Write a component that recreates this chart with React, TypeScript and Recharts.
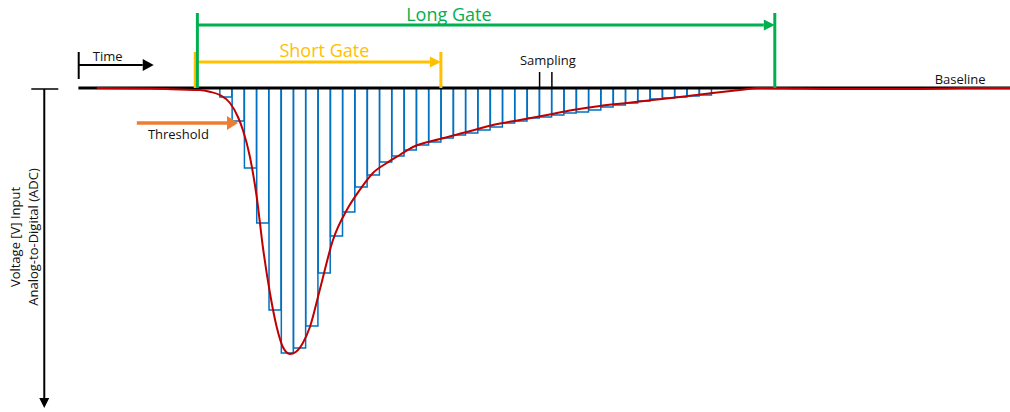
import React from 'react';
import {
  ComposedChart,
  Bar,
  Line,
  XAxis,
  YAxis,
  ReferenceLine,
  ReferenceDot,
} from 'recharts';

// time axis in ns, one ADC sample every 4 ns
const SAMPLE_NS = 4;
const T_DOMAIN: [number, number] = [-71.5, 257];
const V_DOMAIN: [number, number] = [-324, 88];

// digitised amplitude of each sample (mV)
const sampleAmp = [
  -9, -33, -80, -135, -222, -265, -260, -238, -185, -148,
  -124, -99, -87, -74, -68, -62, -57, -54, -50, -47,
  -45, -42, -39, -35, -33, -30, -29, -27, -25, -24,
  -22, -19, -17, -15, -13, -11, -10, -9, -8, -7,
];

// analog pulse shape [t ns, mV]
const pulseT = [
  -40, -23, -13, -6.5, -3.3, 0, 3.3, 5.9, 7.5, 9.8, 12, 14, 16.3, 18.5, 20.5, 22.8,
  24.7, 27, 29.3, 32.5, 36.8, 41.3, 45.5, 49.8, 54.3, 58.5, 62.8, 71.6, 80.3, 88.8,
  97.6, 106.4, 114.8, 123.6, 132.4, 140.8, 149.6, 160.3, 169.1, 175.6, 188.6, 204.9,
  221.2, 235.8, 240.7, 257,
];
const pulseV = [
  0, -0.5, -1.5, -2, -3.7, -7, -15, -29, -42, -69, -109, -159, -205, -239, -259, -266,
  -264, -255, -239, -202, -152, -122, -102, -85, -75, -67, -59, -51, -44, -37,
  -32, -27, -22, -18, -15, -12, -9, -5, -2, 0, -0.5, -1,
  -1, -0.5, 0, 0,
];

const baselineT = [-46, 257];

// gate / marker times (ns)
const gateStart = -7.3;
const shortGateEnd = 71.9;
const longGateEnd = 180.5;
const samplingTicks = [104, 108];

const bins = sampleAmp.map((v, i) => ({ t: i * SAMPLE_NS + SAMPLE_NS / 2, v }));
const pulse = pulseT.map((t, i) => ({ t, v: pulseV[i] }));
const baseline = baselineT.map((t) => ({ t, v: 0 }));

const FONT = '"Open Sans", sans-serif';
const GREEN = '#00B050';
const YELLOW = '#FFC000';
const ORANGE = '#ED7D31';

type ArrowOpts = { color: string; width: number; head: number; half: number };

// horizontal arrow, head at the second point
const hArrow = (o: ArrowOpts) => (p: any) => {
  const { x1, y1, x2 } = p;
  const dir = x2 >= x1 ? 1 : -1;
  const hx = x2 - dir * o.head;
  return (
    <g>
      <line x1={x1} y1={y1} x2={hx} y2={y1} stroke={o.color} strokeWidth={o.width} />
      <polygon points={`${x2},${y1} ${hx},${y1 - o.half} ${hx},${y1 + o.half}`} fill={o.color} />
    </g>
  );
};

// vertical axis arrow with a cap at the top
const vArrow = (p: any) => {
  const { x1, y1, y2 } = p;
  const head = 10;
  return (
    <g>
      <line x1={x1 - 13} y1={y1} x2={x1 + 14} y2={y1} stroke="#000" strokeWidth={1.5} />
      <line x1={x1} y1={y1} x2={x1} y2={y2 - head} stroke="#000" strokeWidth={2} />
      <polygon points={`${x1},${y2} ${x1 - 5},${y2 - head} ${x1 + 5},${y2 - head}`} fill="#000" />
    </g>
  );
};

const note =
  (text: string, color: string, size: number, anchor: 'start' | 'middle' | 'end', rotate = false) =>
  (p: any) =>
    (
      <text
        x={p.cx}
        y={p.cy}
        fill={color}
        fontSize={size}
        fontFamily={FONT}
        textAnchor={anchor}
        dominantBaseline={rotate ? 'central' : 'alphabetic'}
        transform={rotate ? `rotate(-90 ${p.cx} ${p.cy})` : undefined}
      >
        {text}
      </text>
    );

const seg = (xa: number, ya: number, xb: number, yb: number) => [
  { x: xa, y: ya },
  { x: xb, y: yb },
];

export default function App() {
  return (
    <div style={{ position: 'absolute', left: 0, top: 0, background: '#fff' }}>
      <ComposedChart
        width={1010}
        height={412}
        data={bins}
        margin={{ top: 0, right: 0, bottom: 0, left: 0 }}
        barCategoryGap={0}
        barGap={0}
      >
        <XAxis xAxisId="bins" type="number" dataKey="t" domain={T_DOMAIN} allowDataOverflow hide />
        <XAxis xAxisId="t" type="number" dataKey="t" domain={T_DOMAIN} allowDataOverflow hide />
        <YAxis type="number" domain={V_DOMAIN} allowDataOverflow hide />

        <Bar
          xAxisId="bins"
          dataKey="v"
          fill="#fff"
          stroke="#0070C0"
          strokeWidth={1.5}
          isAnimationActive={false}
        />
        <Line
          xAxisId="t"
          data={baseline}
          dataKey="v"
          type="linear"
          stroke="#000"
          strokeWidth={3}
          dot={false}
          activeDot={false}
          isAnimationActive={false}
        />
        <Line
          xAxisId="t"
          data={pulse}
          dataKey="v"
          type="monotone"
          stroke="#C00000"
          strokeWidth={2}
          dot={false}
          activeDot={false}
          isAnimationActive={false}
        />

        {/* voltage axis */}
        <ReferenceLine xAxisId="t" segment={seg(-57.1, -1, -57.1, -320)} shape={vArrow} ifOverflow="visible" />

        {/* time arrow */}
        <ReferenceLine xAxisId="t" segment={seg(-45.9, 36, -45.9, 9)} stroke="#000" strokeWidth={2} ifOverflow="visible" />
        <ReferenceLine
          xAxisId="t"
          segment={seg(-45.9, 23, -21.5, 23)}
          shape={hArrow({ color: '#000', width: 2, head: 11, half: 6 })}
          ifOverflow="visible"
        />

        {/* threshold */}
        <ReferenceLine
          xAxisId="t"
          segment={seg(-27, -35, 5.9, -35)}
          shape={hArrow({ color: ORANGE, width: 3.5, head: 11, half: 7 })}
          ifOverflow="visible"
        />

        {/* short gate */}
        <ReferenceLine xAxisId="t" segment={seg(gateStart - 0.7, 0, gateStart - 0.7, 36)} stroke={YELLOW} strokeWidth={3} ifOverflow="visible" />
        <ReferenceLine xAxisId="t" segment={seg(shortGateEnd, 0, shortGateEnd, 36)} stroke={YELLOW} strokeWidth={3} ifOverflow="visible" />
        <ReferenceLine
          xAxisId="t"
          segment={seg(gateStart - 0.7, 26, shortGateEnd, 26)}
          shape={hArrow({ color: YELLOW, width: 3, head: 11, half: 5.5 })}
          ifOverflow="visible"
        />

        {/* long gate */}
        <ReferenceLine xAxisId="t" segment={seg(gateStart, 0, gateStart, 75)} stroke={GREEN} strokeWidth={3} ifOverflow="visible" />
        <ReferenceLine xAxisId="t" segment={seg(longGateEnd, 0, longGateEnd, 75)} stroke={GREEN} strokeWidth={3} ifOverflow="visible" />
        <ReferenceLine
          xAxisId="t"
          segment={seg(gateStart, 63, longGateEnd, 63)}
          shape={hArrow({ color: GREEN, width: 3, head: 11, half: 5.5 })}
          ifOverflow="visible"
        />

        {/* sampling interval */}
        {samplingTicks.map((t) => (
          <ReferenceLine key={t} xAxisId="t" segment={seg(t, 0, t, 16)} stroke="#000" strokeWidth={1.5} ifOverflow="visible" />
        ))}

        {/* text */}
        <ReferenceDot xAxisId="t" x={74.5} y={67} shape={note('Long Gate', GREEN, 18, 'middle')} ifOverflow="visible" />
        <ReferenceDot xAxisId="t" x={34} y={31} shape={note('Short Gate', YELLOW, 18, 'middle')} ifOverflow="visible" />
        <ReferenceDot xAxisId="t" x={-41.3} y={27.5} shape={note('Time', '#111', 13, 'start')} ifOverflow="visible" />
        <ReferenceDot xAxisId="t" x={-23.4} y={-51} shape={note('Threshold', '#111', 13, 'start')} ifOverflow="visible" />
        <ReferenceDot xAxisId="t" x={106.7} y={23} shape={note('Sampling', '#111', 13, 'middle')} ifOverflow="visible" />
        <ReferenceDot xAxisId="t" x={232.5} y={4.5} shape={note('Baseline', '#111', 13, 'start')} ifOverflow="visible" />
        <ReferenceDot xAxisId="t" x={-66.7} y={-149} shape={note('Voltage [V] Input', '#111', 13, 'middle', true)} ifOverflow="visible" />
        <ReferenceDot xAxisId="t" x={-60.8} y={-149} shape={note('Analog-to-Digital (ADC)', '#111', 13, 'middle', true)} ifOverflow="visible" />
      </ComposedChart>
    </div>
  );
}
